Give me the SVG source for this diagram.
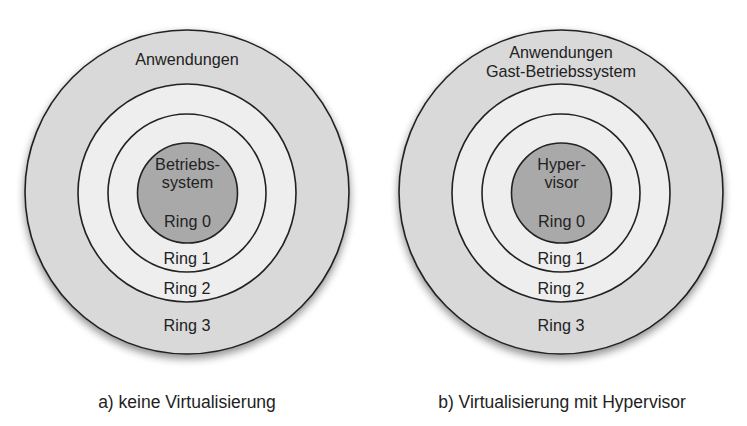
<svg xmlns="http://www.w3.org/2000/svg" width="747" height="426" viewBox="0 0 747 426">
  <style>
    text { font-family: "Liberation Sans", Arial, sans-serif; font-size: 16.2px; fill: #222; text-anchor: middle; }
    .caption { font-size: 17.5px; }
    .ring { stroke: #222; stroke-width: 1.6; }
    .r3 { fill: #d9d9d9; }
    .r2 { fill: #eeeeee; }
    .r1 { fill: #eeeeee; }
    .r0 { fill: #a9a9a9; }
  </style>
  <defs>
    <filter id="shadow" x="-20%" y="-20%" width="140%" height="150%">
      <feGaussianBlur in="SourceAlpha" stdDeviation="4"/>
      <feOffset dy="4" result="blur"/>
      <feComponentTransfer><feFuncA type="linear" slope="0.45"/></feComponentTransfer>
      <feMerge><feMergeNode/><feMergeNode in="SourceGraphic"/></feMerge>
    </filter>
  </defs>
  <rect width="747" height="426" fill="#ffffff"/>

  <!-- a) ring model without virtualisation -->
  <g id="model-a">
    <circle class="ring r3" cx="187" cy="192" r="162" filter="url(#shadow)"/>
    <circle class="ring r2" cx="187" cy="193" r="109"/>
    <circle class="ring r1" cx="187" cy="193" r="79"/>
    <circle class="ring r0" cx="187.5" cy="193" r="50"/>
    <text x="187" y="65">Anwendungen</text>
    <text x="187.5" y="170">Betriebs-</text>
    <text x="187.5" y="188">system</text>
    <text x="187.5" y="227">Ring 0</text>
    <text x="187" y="264">Ring 1</text>
    <text x="187" y="294">Ring 2</text>
    <text x="187" y="331">Ring 3</text>
    <text class="caption" x="187" y="408">a) keine Virtualisierung</text>
  </g>

  <!-- b) ring model with hypervisor -->
  <g id="model-b">
    <circle class="ring r3" cx="561" cy="192" r="162" filter="url(#shadow)"/>
    <circle class="ring r2" cx="561" cy="193" r="109"/>
    <circle class="ring r1" cx="561" cy="193" r="79"/>
    <circle class="ring r0" cx="561.5" cy="193" r="50"/>
    <text x="561" y="58">Anwendungen</text>
    <text x="561" y="77">Gast-Betriebssystem</text>
    <text x="561.5" y="170">Hyper-</text>
    <text x="561.5" y="188">visor</text>
    <text x="561.5" y="227">Ring 0</text>
    <text x="561" y="264">Ring 1</text>
    <text x="561" y="294">Ring 2</text>
    <text x="561" y="331">Ring 3</text>
    <text class="caption" x="562" y="408">b) Virtualisierung mit Hypervisor</text>
  </g>

  <g id="connectors"/>
</svg>
